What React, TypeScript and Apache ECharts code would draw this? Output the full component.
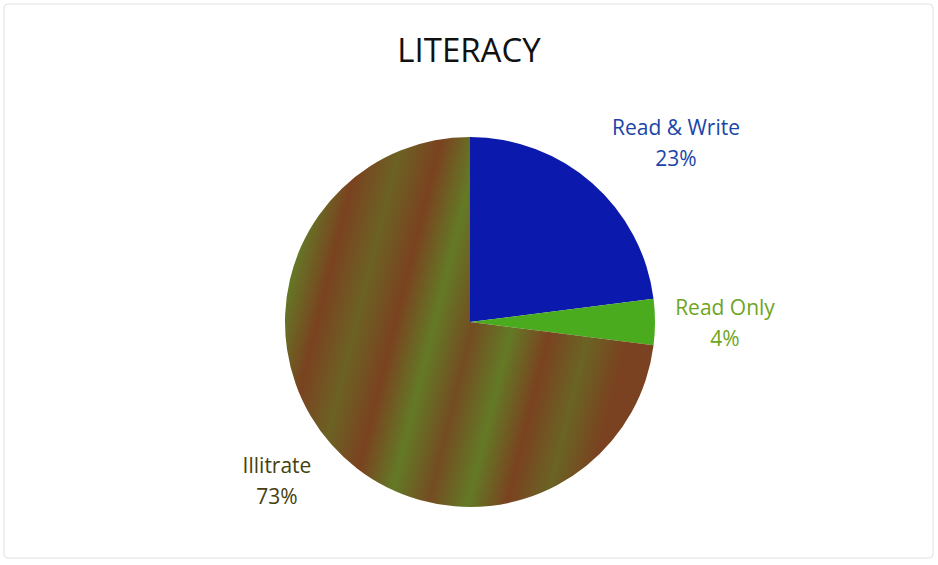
import React, { useEffect, useRef } from "react";
import * as echarts from "echarts";

const categories = ["Read & Write", "Read Only", "Illitrate"];
const values = [23, 4, 73];
const sliceColors = ["#0c19ad", "#4aab1e", "illiterate"];
const labelColors = ["#1a45a8", "#6ea51e", "#45400e"];
const labelPos = [
  [676, 142],
  [725, 322],
  [277, 480],
];

export default function App() {
  const ref = useRef<HTMLDivElement>(null);
  useEffect(() => {
    if (!ref.current) return;
    const chart = echarts.init(ref.current, null, { renderer: "svg" });
    const brown = "#7a4220";
    const olive = "#637a26";
    const texture = new echarts.graphic.LinearGradient(0, 0, 1, 0.25, [
      { offset: 0, color: brown },
      { offset: 0.1, color: olive },
      { offset: 0.2, color: brown },
      { offset: 0.3, color: "#6c6224" },
      { offset: 0.4, color: brown },
      { offset: 0.5, color: olive },
      { offset: 0.6, color: "#744c22" },
      { offset: 0.7, color: olive },
      { offset: 0.8, color: brown },
      { offset: 0.9, color: "#6a6424" },
      { offset: 1, color: brown },
    ]);
    const data = categories.map((name, i) => ({
      name,
      value: values[i],
      itemStyle: { color: sliceColors[i] === "illiterate" ? texture : sliceColors[i] },
      label: { color: labelColors[i] },
    }));
    chart.setOption({
      animation: false,
      backgroundColor: "#ffffff",
      title: {
        text: "LITERACY",
        left: "center",
        top: 28,
        textStyle: {
          fontFamily: "Open Sans",
          fontSize: 33,
          fontWeight: "normal",
          color: "#111111",
        },
      },
      graphic: [
        {
          type: "rect",
          shape: { x: 4, y: 4, width: 929, height: 554, r: 4 },
          style: { fill: "none", stroke: "#e2e2e2", lineWidth: 1 },
          silent: true,
        },
      ],
      series: [
        {
          type: "pie",
          center: [470, 322],
          radius: 185,
          startAngle: 90,
          clockwise: true,
          data,
          label: {
            show: true,
            position: "outside",
            formatter: "{b}\n{d}%",
            fontFamily: "Open Sans",
            fontSize: 21,
            lineHeight: 31,
            align: "center",
          },
          labelLine: { show: false },
          labelLayout: (params: any) => ({
            x: labelPos[params.dataIndex][0],
            y: labelPos[params.dataIndex][1],
            align: "center",
            verticalAlign: "middle",
          }),
          emphasis: { disabled: true },
        },
      ],
    });
    return () => chart.dispose();
  }, []);
  return (
    <div
      ref={ref}
      style={{ position: "fixed", left: 0, top: 0, width: 938, height: 565 }}
    />
  );
}
